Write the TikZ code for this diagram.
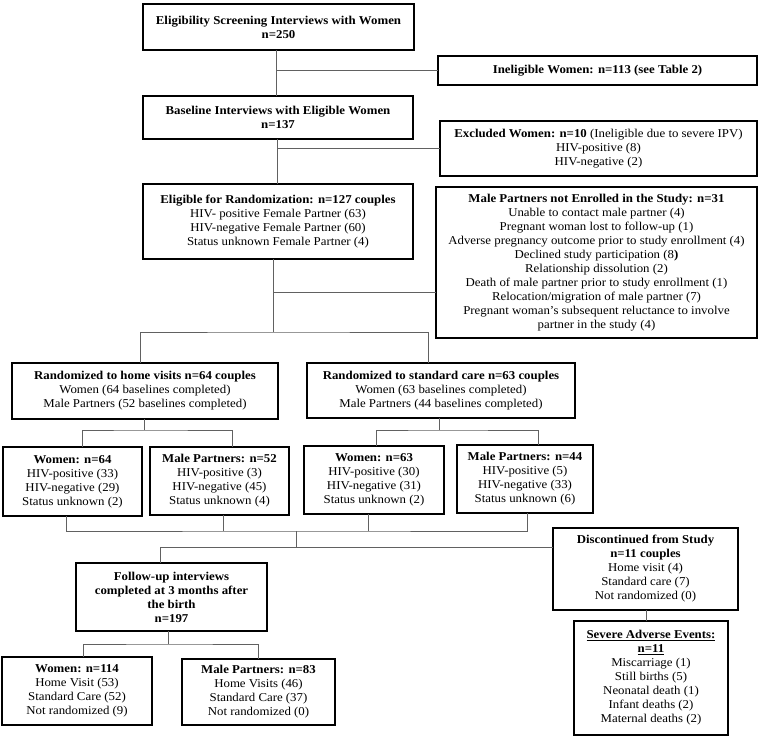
\documentclass[tikz,border=0pt]{standalone}
\usepackage{fontspec}
\setmainfont[FakeStretch=1.07]{Liberation Serif}
\begin{document}
\begin{tikzpicture}[x=1pt,y=-1pt,
  bx/.style={draw, line width=2.8pt, align=center, inner sep=1pt, outer sep=0pt,
             font=\fontsize{12}{14}\selectfont},
  ln/.style={draw=black!62, line width=0.9pt}]
\useasboundingbox (0,0) rectangle (760,739);

\node[bx,minimum width=271,minimum height=46] (A) at (278.5,27)
  {\textbf{Eligibility Screening Interviews with Women}\\\textbf{n=250}};
\node[bx,minimum width=319,minimum height=29] (Inel) at (597.5,70.5)
  {\textbf{Ineligible Women: n=113 (see Table 2)}};
\node[bx,minimum width=270,minimum height=43] (B) at (278,117.5)
  {\textbf{Baseline Interviews with Eligible Women}\\\textbf{n=137}};
\node[bx,minimum width=317,minimum height=55] (Excl) at (598.5,148.5)
  {\textbf{Excluded Women: n=10} (Ineligible due to severe IPV)\\HIV-positive (8)\\HIV-negative (2)};
\node[bx,minimum width=270,minimum height=75] (C) at (278,221.5)
  {\textbf{Eligible for Randomization: n=127 couples}\\HIV- positive Female Partner (63)\\HIV-negative Female Partner (60)\\Status unknown Female Partner (4)};
\node[bx,minimum width=321,minimum height=151] (MNE) at (596.5,262.5)
  {\textbf{Male Partners not Enrolled in the Study: n=31}\\Unable to contact male partner (4)\\Pregnant woman lost to follow-up (1)\\Adverse pregnancy outcome prior to study enrollment (4)\\Declined study participation (8\textbf{)}\\Relationship dissolution (2)\\Death of male partner prior to study enrollment (1)\\Relocation/migration of male partner (7)\\Pregnant woman’s subsequent reluctance to involve\\partner in the study (4)};
\node[bx,minimum width=266,minimum height=56] (RH) at (145,391)
  {\textbf{Randomized to home visits n=64 couples}\\Women (64 baselines completed)\\Male Partners (52 baselines completed)};
\node[bx,minimum width=268,minimum height=55] (RS) at (441,390.5)
  {\textbf{Randomized to standard care n=63 couples}\\Women (63 baselines completed)\\Male Partners (44 baselines completed)};
\node[bx,minimum width=139,minimum height=69] (W64) at (72.5,481.5)
  {\textbf{Women: n=64}\\HIV-positive (33)\\HIV-negative (29)\\Status unknown (2)};
\node[bx,minimum width=139,minimum height=68] (M52) at (219.5,481)
  {\textbf{Male Partners: n=52}\\HIV-positive (3)\\HIV-negative (45)\\Status unknown (4)};
\node[bx,minimum width=140,minimum height=68] (W63) at (374,480)
  {\textbf{Women: n=63}\\HIV-positive (30)\\HIV-negative (31)\\Status unknown (2)};
\node[bx,minimum width=136,minimum height=68] (M44) at (525,479)
  {\textbf{Male Partners: n=44}\\HIV-positive (5)\\HIV-negative (33)\\Status unknown (6)};
\node[bx,minimum width=185,minimum height=82] (Disc) at (645.5,569)
  {\textbf{Discontinued from Study}\\\textbf{n=11 couples}\\Home visit (4)\\Standard care (7)\\Not randomized (0)};
\node[bx,minimum width=191,minimum height=68] (FU) at (171.5,597)
  {\textbf{Follow-up interviews}\\\textbf{completed at 3 months after}\\\textbf{the birth}\\\textbf{n=197}};
\node[bx,minimum width=150,minimum height=68] (W114) at (77,691)
  {\textbf{Women: n=114}\\Home Visit (53)\\Standard Care (52)\\Not randomized (9)};
\node[bx,minimum width=153,minimum height=66] (M83) at (258.5,692)
  {\textbf{Male Partners: n=83}\\Home Visits (46)\\Standard Care (37)\\Not randomized (0)};
\node[bx,minimum width=154,minimum height=114] (SAE) at (651,678)
  {\textbf{\underline{Severe Adverse Events:}}\\\textbf{\underline{n=11}}\\Miscarriage (1)\\Still births (5)\\Neonatal death (1)\\Infant deaths (2)\\Maternal deaths (2)};

% connectors
\draw[ln] (A.south -| 276,0) -- (B.north -| 276,0);
\draw[ln] (276,0 |- Inel.west) -- (Inel.west);
\draw[ln] (B.south -| 277,0) -- (C.north -| 277,0);
\draw[ln] (277,0 |- Excl.west) -- (Excl.west);
\coordinate (mj) at (MNE.west |- 0,292);
\coordinate (rbar) at (273,332);
\draw[ln] (C.south -| rbar) -- (rbar);
\draw[ln] (rbar |- mj) -- (mj);
\draw[ln] (RH.north -| 140,0) |- (rbar) -| (RS.north -| 428,0);
\coordinate (hb) at (144,430);
\draw[ln] (RH.south -| hb) -- (hb);
\draw[ln] (W64.north -| 82,0) |- (hb) -| (M52.north -| 232,0);
\coordinate (sb) at (439,430);
\draw[ln] (RS.south -| sb) -- (sb);
\draw[ln] (W63.north -| 376,0) |- (sb) -| (M44.north -| 538,0);
\coordinate (cb) at (296,531);
\draw[ln] (W64.south -| 66,0) |- (cb) -| (M44.south -| 527,0);
\draw[ln] (M52.south -| 223,0) -- (223,531);
\draw[ln] (W63.south -| 368,0) -- (368,531);
\coordinate (fb) at (296,547);
\draw[ln] (cb) -- (fb);
\draw[ln] (FU.north -| 160,0) |- (Disc.west |- fb);
\coordinate (fub) at (168,644);
\draw[ln] (FU.south -| fub) -- (fub);
\draw[ln] (W114.north -| 83,0) |- (fub) -| (M83.north -| 258,0);
\draw[ln] (Disc.south -| 646,0) -- (SAE.north -| 646,0);
\end{tikzpicture}
\end{document}
